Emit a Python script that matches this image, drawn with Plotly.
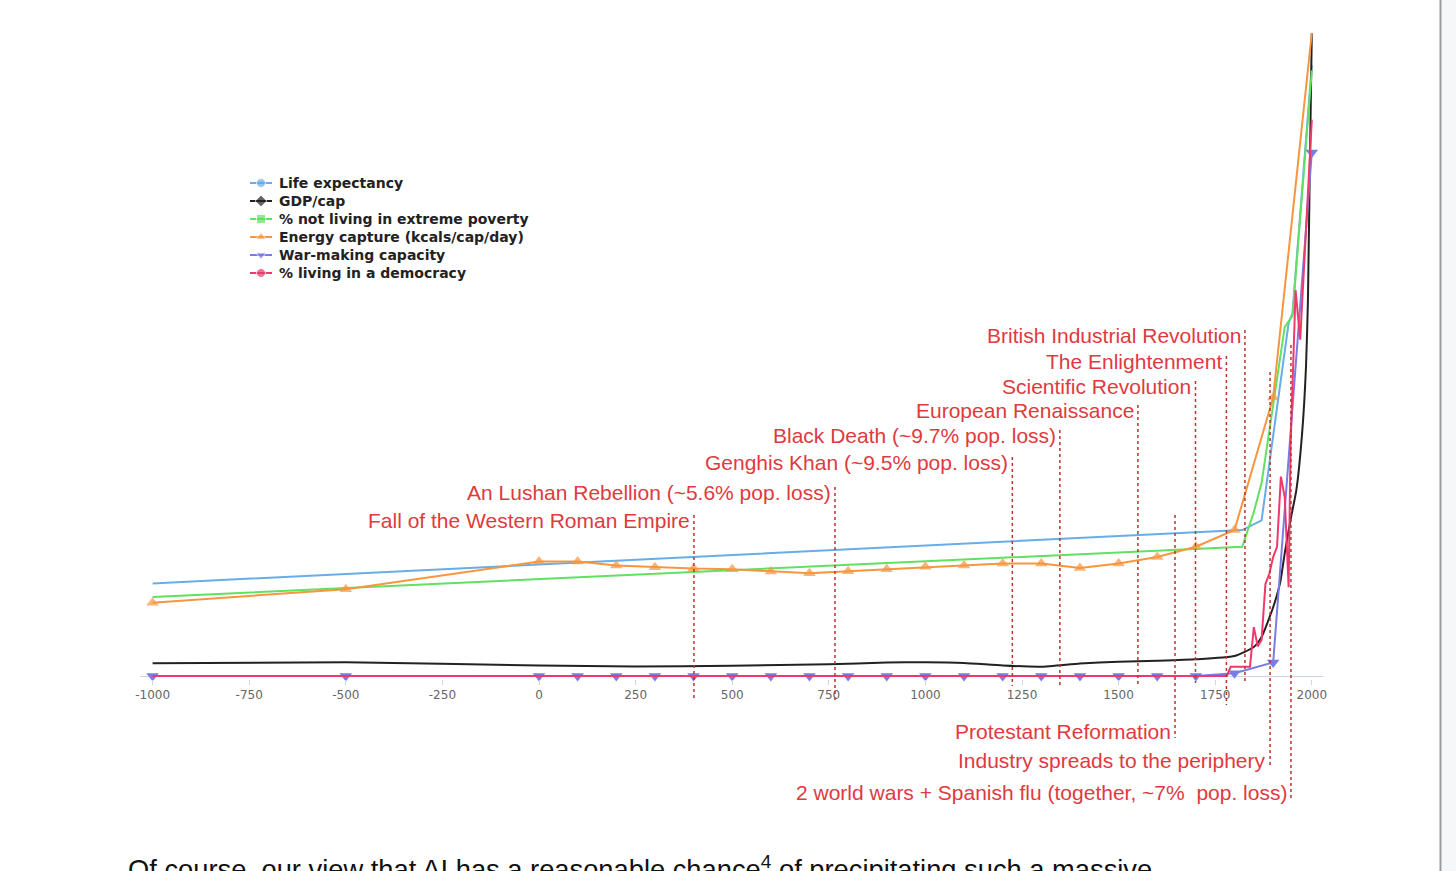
import plotly.graph_objects as go

# ---------------- data (index values, 0-100 scale of the chart) ----------------
life_years = [-1000, 1820, 1870, 1940, 1950, 2000]
life_vals = [14.4, 22.7, 24.2, 54.9, 56.4, 95.0]

gdp_years = [-1000, -500, 0, 250, 500, 750, 900, 1000, 1100, 1200, 1300, 1400, 1500,
             1600, 1700, 1800, 1850, 1870, 1900, 1918, 1930, 1945, 1960, 1975, 1985, 1990, 2000]
gdp_vals = [1.98, 2.13, 1.63, 1.48, 1.60, 1.82, 2.10, 2.13, 2.02, 1.63, 1.45, 1.94, 2.21,
            2.38, 2.60, 3.11, 4.51, 6.07, 10.7, 14.5, 19.1, 24.3, 28.9, 37.8, 48.1, 58.5, 100.0]

pov_years = [-1000, 1820, 1850, 1870, 1930, 1950, 2000]
pov_vals = [12.3, 20.1, 25.5, 30.0, 54.3, 56.0, 94.2]

energy_years = [-1000, -500, 0, 100, 200, 300, 400, 500, 600, 700, 800, 900, 1000,
                1100, 1200, 1300, 1400, 1500, 1600, 1700, 1800, 1900, 2000]
energy_vals = [11.4, 13.5, 17.8, 17.8, 17.2, 16.9, 16.7, 16.6, 16.25, 15.97, 16.3, 16.6, 17.0,
               17.2, 17.5, 17.5, 16.8, 17.5, 18.5, 20.1, 22.7, 43.3, 100.0]

war_years = [-1000, -500, 0, 100, 200, 300, 400, 500, 600, 700, 800, 900, 1000,
             1100, 1200, 1300, 1400, 1500, 1600, 1700, 1800, 1900, 2000]
war_vals = [0.0] * 20 + [0.42, 2.1, 81.4]

demo_years = [-1000, 1780, 1790, 1840, 1850, 1860, 1870, 1880, 1890, 1900, 1910,
              1920, 1930, 1940, 1945, 1958, 1970, 2000]
demo_vals = [0, 0, 1.45, 1.45, 7.6, 4.6, 5.6, 14.3, 15.9, 18.5, 20.1,
             31.0, 27.8, 13.8, 35.6, 60.0, 52.3, 86.5]

series_names = ["Life expectancy", "GDP/cap", "% not living in extreme poverty",
                "Energy capture (kcals/cap/day)", "War-making capacity", "% living in a democracy"]
series_colors = ["#68ade8", "#222222", "#62e062", "#f7963f", "#7a7ce6", "#f0386c"]
series_symbols = ["circle", "diamond", "square", "triangle-up", "triangle-down", "circle"]

# Events: label, year of dotted line, label y (px), line top (px), line bottom (px)
event_labels = ["Fall of the Western Roman Empire", "An Lushan Rebellion (~5.6% pop. loss)",
                "Genghis Khan (~9.5% pop. loss)", "Black Death (~9.7% pop. loss)",
                "European Renaissance", "Scientific Revolution", "The Enlightenment",
                "British Industrial Revolution", "Protestant Reformation",
                "Industry spreads to the periphery",
                "2 world wars + Spanish flu (together, ~7%  pop. loss)"]
event_years = [401, 766, 1225, 1348, 1550, 1699, 1779, 1827, 1646, 1892, 1946]
event_text_y = [520, 492, 462, 435, 410, 386, 361, 335, 731, 761, 792]
event_line_top = [515, 487, 457, 430, 405, 381, 356, 330, 515, 372, 345]
event_line_bot = [700, 700, 686, 688, 687, 683, 705, 684, 738, 767, 798]

tick_vals = list(range(-1000, 2001, 250))
tick_text = ["-1000", "-750", "-500", "-250", "0", "250", "500", "750", "1000",
             "1250", "1500", "1750", "2000"]

# ---------------- layout geometry ----------------
W, H = 1456, 871
PL, PR, PT, PB = 140, 1323, 33, 679   # plot area in px
Y0PX = 676                             # pixel row of value 0
YSCALE = (Y0PX - PT) / 100.0           # px per unit
PH = PB - PT
PW = PR - PL


def ypap(py):
    return (PB - py) / PH


def xpap(px):
    return (px - PL) / PW


fig = go.Figure()

all_data = [(life_years, life_vals), (gdp_years, gdp_vals), (pov_years, pov_vals),
            (energy_years, energy_vals), (war_years, war_vals), (demo_years, demo_vals)]

for i, (xs, ys) in enumerate(all_data):
    show_markers = i in (3, 4)
    msize = 11
    if i == 3:
        msize = [11] * (len(xs) - 1) + [0]
    fig.add_trace(go.Scatter(
        x=xs, y=ys, mode="lines+markers" if show_markers else "lines",
        line=dict(color=series_colors[i], width=2,
                  shape="spline" if i == 1 else "linear", smoothing=0.5),
        marker=dict(symbol=series_symbols[i], size=msize, color=series_colors[i],
                    line=dict(width=0)),
        showlegend=False, hoverinfo="skip", cliponaxis=False,
    ))

# hand-drawn legend (pixel overlay axes)
leg_x0, leg_x1, leg_text_x = 250, 272, 277
leg_y = [183, 201, 219, 237, 255, 273]
annotations = []
for i in range(6):
    fig.add_trace(go.Scatter(
        x=[leg_x0, (leg_x0 + leg_x1) / 2, leg_x1], y=[leg_y[i]] * 3,
        xaxis="x2", yaxis="y2", mode="lines+markers",
        line=dict(color=series_colors[i], width=2),
        marker=dict(symbol=series_symbols[i], size=[0, 9, 0], color=series_colors[i]),
        showlegend=False, hoverinfo="skip",
    ))
    annotations.append(dict(text=series_names[i], xref="x2", yref="y2", x=leg_text_x, y=leg_y[i],
                            xanchor="left", yanchor="middle", showarrow=False,
                            font=dict(family="DejaVu Sans", size=14, color="#222222", weight="bold")))

shapes = []
for lab, yr, ty, lt, lb in zip(event_labels, event_years, event_text_y, event_line_top, event_line_bot):
    shapes.append(dict(type="line", xref="x", yref="paper", x0=yr, x1=yr,
                       y0=ypap(lt), y1=ypap(lb),
                       line=dict(color="#b8352c", width=1.5, dash="dot")))
    annotations.append(dict(text=lab, xref="x", yref="paper", x=yr, y=ypap(ty),
                            xanchor="right", yanchor="middle", xshift=-2, showarrow=False,
                            font=dict(family="Liberation Sans", size=21, color="#e03a3e")))

# page text cut off at the bottom
annotations.append(dict(text="Of course, our view that AI has a reasonable chance<sup>4</sup> of precipitating such a massive",
                        xref="paper", yref="paper", x=xpap(126), y=ypap(849),
                        xanchor="left", yanchor="top", showarrow=False,
                        font=dict(family="Liberation Sans", size=27.3, color="#111111")))

# scrollbar at the right edge of the page
shapes.append(dict(type="rect", xref="paper", yref="paper", x0=xpap(1442), x1=xpap(1457),
                   y0=ypap(872), y1=ypap(-1), fillcolor="#f6f7f9", line=dict(width=0), layer="below"))
shapes.append(dict(type="line", xref="paper", yref="paper", x0=xpap(1440.5), x1=xpap(1440.5),
                   y0=ypap(872), y1=ypap(-1), line=dict(color="#9a9a9a", width=2)))

fig.update_layout(
    width=W, height=H, autosize=False,
    margin=dict(l=PL, r=W - PR, t=PT, b=H - PB, pad=0),
    paper_bgcolor="white", plot_bgcolor="white",
    showlegend=False,
    xaxis=dict(range=[(PL - 539) / 0.3864, (PR - 539) / 0.3864], showgrid=False, zeroline=False,
               showline=False,
               ticks="outside", ticklen=5, tickcolor="#ccd6eb", tickwidth=1,
               tickvals=tick_vals, ticktext=tick_text,
               tickfont=dict(family="DejaVu Sans", size=12, color="#666666")),
    yaxis=dict(range=[-(PB - Y0PX) / YSCALE, 100], visible=True, showticklabels=False, ticks="",
               showgrid=False, showline=False, zeroline=True, zerolinecolor="#ccd6eb",
               zerolinewidth=1),
    xaxis2=dict(range=[PL, PR], overlaying="x", visible=False, fixedrange=True),
    yaxis2=dict(range=[PB, PT], overlaying="y", visible=False, fixedrange=True),
    shapes=shapes, annotations=annotations,
)

fig.write_html("out.html", config={"displayModeBar": False},
               post_script="document.body.style.margin='0px';")
